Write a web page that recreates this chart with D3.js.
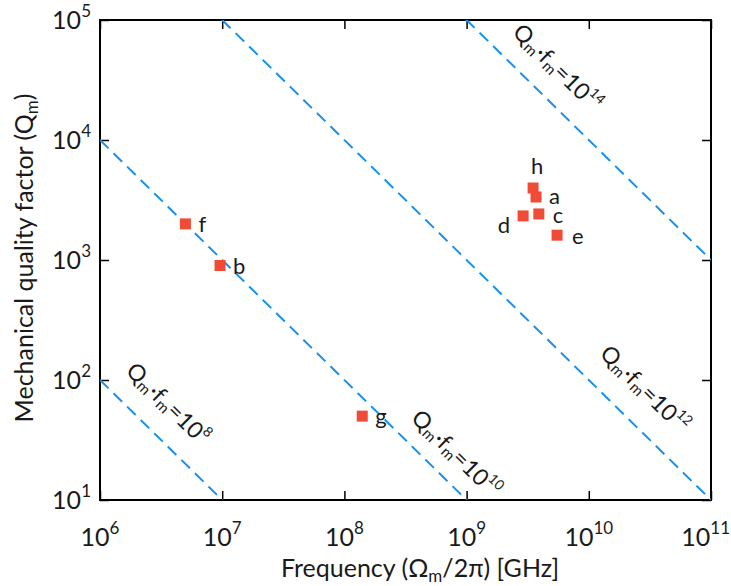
<!DOCTYPE html>
<html>
<head>
<meta charset="utf-8">
<script src="https://cdn.jsdelivr.net/npm/d3@7"></script>
<style>
  html, body { margin: 0; padding: 0; background: #fff; }
  svg { display: block; font-family: Lato, "Open Sans", sans-serif; }
</style>
</head>
<body>
<svg id="chart" width="731" height="586"></svg>
<script>
// Resonators: mechanical frequency (Hz) and quality factor
const names = ["a", "b", "c", "d", "e", "f", "g", "h"];
const freqs = [3.7e9, 9.6e6, 3.9e9, 2.9e9, 5.5e9, 5.0e6, 1.4e8, 3.5e9];
const qualities = [3350, 900, 2420, 2330, 1610, 2000, 50, 3980];

// Constant Q·f product guides (exponents)
const productExps = [8, 10, 12, 14];

// Axis decades
const xDecades = [6, 7, 8, 9, 10, 11];
const yDecades = [1, 2, 3, 4, 5];

const margin = { left: 100, right: 20, top: 20, bottom: 86 };
const W = 731, H = 586;
const x0 = margin.left, x1 = W - margin.right;
const y0 = margin.top, y1 = H - margin.bottom;

const svg = d3.select("#chart");

const x = d3.scaleLog().domain([1e6, 1e11]).range([x0, x1]);
const y = d3.scaleLog().domain([10, 1e5]).range([y1, y0]);

const blue = "#1790ef";
const red = "#ef4b36";
const ink = "#1a1a1a";

// Minor and major tick values
const minorX = [], minorY = [];
xDecades.slice(0, -1).forEach(e => { for (let k = 2; k <= 9; k++) minorX.push(k * Math.pow(10, e)); });
yDecades.slice(0, -1).forEach(e => { for (let k = 2; k <= 9; k++) minorY.push(k * Math.pow(10, e)); });
const majorX = xDecades.map(e => Math.pow(10, e));
const majorY = yDecades.map(e => Math.pow(10, e));

const axisDefs = [
  { gen: d3.axisBottom, sc: x, tr: `translate(0,${y1})` },
  { gen: d3.axisTop, sc: x, tr: `translate(0,${y0})` },
  { gen: d3.axisLeft, sc: y, tr: `translate(${x0},0)` },
  { gen: d3.axisRight, sc: y, tr: `translate(${x1},0)` }
];
axisDefs.forEach(a => {
  const isX = a.sc === x;
  const g = svg.append("g").attr("transform", a.tr);
  g.call(a.gen(a.sc).tickValues(isX ? minorX : minorY).tickSize(-5).tickFormat(""));
  g.call(a.gen(a.sc).tickValues(isX ? majorX : majorY).tickSize(-9).tickFormat(""));
  g.select(".domain").remove();
  g.selectAll(".tick line").attr("stroke", "#000").attr("stroke-width", 1.5);
});

// Frame
svg.append("rect")
  .attr("x", x0).attr("y", y0)
  .attr("width", x1 - x0).attr("height", y1 - y0)
  .attr("fill", "none").attr("stroke", "#000").attr("stroke-width", 2);

// Constant-product dashed lines, clipped to the plot area
svg.append("clipPath").attr("id", "plotClip")
  .append("rect").attr("x", x0).attr("y", y0).attr("width", x1 - x0).attr("height", y1 - y0);

const guides = svg.append("g").attr("clip-path", "url(#plotClip)");
productExps.forEach(p => {
  const prod = Math.pow(10, p);
  const fa = 1e6, fb = 1e11;
  guides.append("line")
    .attr("x1", x(fa)).attr("y1", y(prod / fa))
    .attr("x2", x(fb)).attr("y2", y(prod / fb))
    .attr("stroke", blue).attr("stroke-width", 2)
    .attr("stroke-dasharray", "12,7");
});

// Guide labels: rotated along the lines, centred just above-right of each
const angle = Math.atan2(y(10) - y(100), x(1e7) - x(1e6)) * 180 / Math.PI;
const guideLabelFreq = [3.5e6, 8.0e8, 2.8e10, 5.4e9];
const guideLabelQ = [62, 23.7, 82, 39000];
productExps.forEach((p, i) => {
  const cx = x(guideLabelFreq[i]), cy = y(guideLabelQ[i]);
  const t = svg.append("text")
    .attr("transform", `translate(${cx},${cy}) rotate(${angle})`)
    .attr("text-anchor", "middle")
    .attr("dominant-baseline", "middle")
    .attr("font-size", 23)
    .attr("fill", ink);
  t.append("tspan").text("Q");
  t.append("tspan").attr("font-size", 15).attr("dy", 5).text("m");
  t.append("tspan").attr("dy", -5).text("·f");
  t.append("tspan").attr("font-size", 15).attr("dy", 5).text("m");
  t.append("tspan").attr("dy", -5).text("=10");
  t.append("tspan").attr("font-size", 14).attr("dy", -9).text(String(p));
});

// Data markers
const sq = 11;
const pts = names.map((n, i) => ({ n, f: freqs[i], q: qualities[i] }));
svg.append("g").selectAll("rect").data(pts).join("rect")
  .attr("x", d => x(d.f) - sq / 2)
  .attr("y", d => y(d.q) - sq / 2)
  .attr("width", sq).attr("height", sq)
  .attr("fill", red);

// Point labels (offsets from each marker)
const labelDx = { a: 13, b: 13, c: 14, d: -13, e: 15, f: 13, g: 13, h: 4 };
const labelDy = { a: 7, b: 9, c: 9, d: 17, e: 9, f: 8, g: 8, h: -14 };
svg.append("g").selectAll("text").data(pts).join("text")
  .attr("x", d => x(d.f) + labelDx[d.n])
  .attr("y", d => y(d.q) + labelDy[d.n])
  .attr("text-anchor", d => d.n === "d" ? "end" : (d.n === "h" ? "middle" : "start"))
  .attr("font-size", 22)
  .attr("fill", ink)
  .text(d => d.n);

// Tick labels: 10 with superscript exponent
const tickFont = 25;
xDecades.forEach(e => {
  const t = svg.append("text")
    .attr("x", x(Math.pow(10, e)))
    .attr("y", y1 + 46)
    .attr("text-anchor", "middle")
    .attr("font-size", tickFont)
    .attr("fill", ink);
  t.append("tspan").text("10");
  t.append("tspan").attr("font-size", 17).attr("dy", -12).text(String(e));
  // keep the rightmost label inside the page
  const bb = t.node().getBBox();
  if (bb.x + bb.width > W - 1) t.attr("x", x(Math.pow(10, e)) - (bb.x + bb.width - (W - 1)));
});
yDecades.forEach(e => {
  const t = svg.append("text")
    .attr("x", x0 - 9)
    .attr("y", y(Math.pow(10, e)) + 9)
    .attr("text-anchor", "end")
    .attr("font-size", tickFont)
    .attr("fill", ink);
  t.append("tspan").text("10");
  t.append("tspan").attr("font-size", 17).attr("dy", -12).text(String(e));
});

// Axis titles
const xt = svg.append("text")
  .attr("x", 420).attr("y", 577)
  .attr("text-anchor", "middle")
  .attr("font-size", 25)
  .attr("fill", ink);
xt.append("tspan").text("Frequency (Ω");
xt.append("tspan").attr("font-size", 17).attr("dy", 5).text("m");
xt.append("tspan").attr("dy", -5).text("/2π) [GHz]");

const yt = svg.append("text")
  .attr("transform", `translate(33,${258}) rotate(-90)`)
  .attr("text-anchor", "middle")
  .attr("font-size", 25)
  .attr("fill", ink);
yt.append("tspan").text("Mechanical quality factor (Q");
yt.append("tspan").attr("font-size", 17).attr("dy", 5).text("m");
yt.append("tspan").attr("dy", -5).text(")");
</script>
</body>
</html>
